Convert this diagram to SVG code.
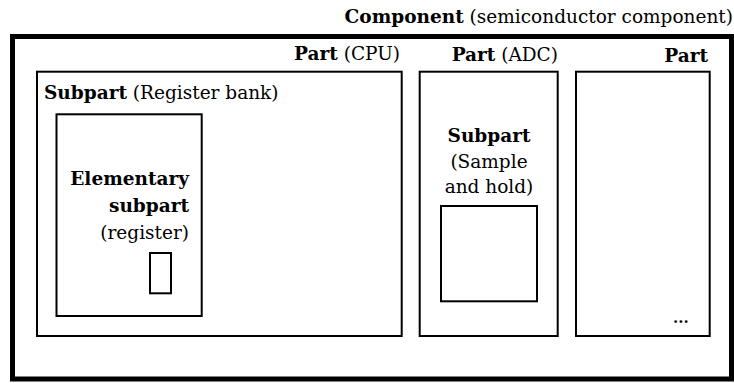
<svg xmlns="http://www.w3.org/2000/svg" width="734" height="383" viewBox="0 0 734 383">
<style>
text{font-family:"DejaVu Serif","Liberation Serif",serif;font-size:18.5px;fill:#000}
.b{font-weight:bold}
.e{text-anchor:end}
.m{text-anchor:middle}
.s{font-size:15px}
rect{fill:none;stroke:#000}
.thin{stroke-width:2}
.thick{stroke-width:5}
</style>
<rect width="734" height="383" fill="#fff" style="fill:#fff;stroke:none"/>
<g id="component">
<rect class="thick" x="12.5" y="36.5" width="719" height="342.5"/>
<text class="e" x="733" y="23"><tspan class="b">Component</tspan> (semiconductor component)</text>
</g>
<g id="part-cpu">
<rect class="thin" x="37" y="71.7" width="364.7" height="264.3"/>
<text class="e" x="400" y="60"><tspan class="b">Part</tspan> (CPU)</text>
</g>
<g id="subpart-register-bank">
<rect class="thin" x="56.5" y="114.3" width="145.2" height="201.7"/>
<text x="44" y="99"><tspan class="b">Subpart</tspan> (Register bank)</text>
</g>
<g id="elementary-subpart">
<rect class="thin" x="150" y="253" width="21" height="40.3"/>
<text class="e b" x="189" y="185">Elementary</text>
<text class="e b" x="189" y="211.5">subpart</text>
<text class="e" x="189" y="239">(register)</text>
</g>
<g id="part-adc">
<rect class="thin" x="419.7" y="71.7" width="138" height="264.3"/>
<text class="e" x="558" y="61"><tspan class="b">Part</tspan> (ADC)</text>
</g>
<g id="subpart-sample-hold">
<rect class="thin" x="441" y="206" width="96" height="95.3"/>
<text class="m b" x="489" y="141.5">Subpart</text>
<text class="m" x="489" y="167.5">(Sample</text>
<text class="m" x="489" y="193">and hold)</text>
</g>
<g id="part-other">
<rect class="thin" x="576" y="71.7" width="133.7" height="264.3"/>
<text class="e b" x="708" y="62">Part</text>
<text class="b s" x="673" y="323">...</text>
</g>
<g id="connectors"></g>
</svg>
